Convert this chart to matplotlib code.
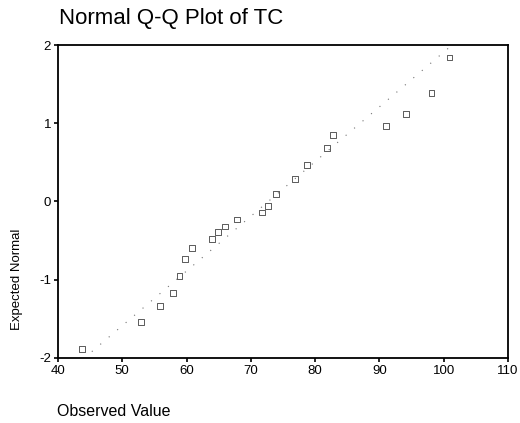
import numpy as np
import matplotlib.pyplot as plt

plt.rcParams['font.family'] = ['Liberation Sans', 'DejaVu Sans']
plt.rcParams['axes.unicode_minus'] = False

# observed TC values and their expected normal scores
observed = [43.8, 52.9, 55.9, 57.9, 58.9, 59.8, 60.9, 63.9, 64.9, 66.0, 67.9,
            71.8, 72.7, 73.9, 76.9, 78.8, 81.9, 82.8, 91.0, 94.1, 98.1, 100.9]
expected = [-1.88, -1.54, -1.33, -1.17, -0.95, -0.73, -0.59, -0.48, -0.39,
            -0.32, -0.23, -0.14, -0.06, 0.10, 0.29, 0.47, 0.68, 0.85, 0.97,
            1.12, 1.39, 1.84]

# reference line: mean / sd of the sample
line_mean = 72.7
line_sd = 14.3

xticks = [40, 50, 60, 70, 80, 90, 100, 110]
yticks = [-2, -1, 0, 1, 2]

fig = plt.figure(figsize=(5.20, 4.23), dpi=100)
ax = fig.add_axes([0.1115, 0.1537, 0.8655, 0.7399])

xl = np.array([40, 110])
ax.plot(xl, (xl - line_mean) / line_sd, color='0.45', lw=0.8,
        linestyle=(0, (1, 9)), zorder=1)
ax.scatter(observed, expected, marker='s', s=18, facecolors='none',
           edgecolors='0.25', linewidths=0.6, zorder=2)

ax.set_xlim(40, 110)
ax.set_ylim(-2, 2)
ax.set_xticks(xticks)
ax.set_yticks(yticks)
ax.tick_params(direction='out', length=3, width=1.2, labelsize=9.5, pad=2)
for sp in ax.spines.values():
    sp.set_linewidth(1.3)

fig.text(0.113, 0.943, 'Normal Q-Q Plot of TC', fontsize=16, ha='left',
         va='baseline')
fig.text(0.033, 0.34, 'Expected Normal', fontsize=9.5, rotation=90,
         ha='center', va='center')
fig.text(0.11, 0.016, 'Observed Value', fontsize=11.5, ha='left',
         va='baseline')

fig.savefig('out.png', dpi=100)
